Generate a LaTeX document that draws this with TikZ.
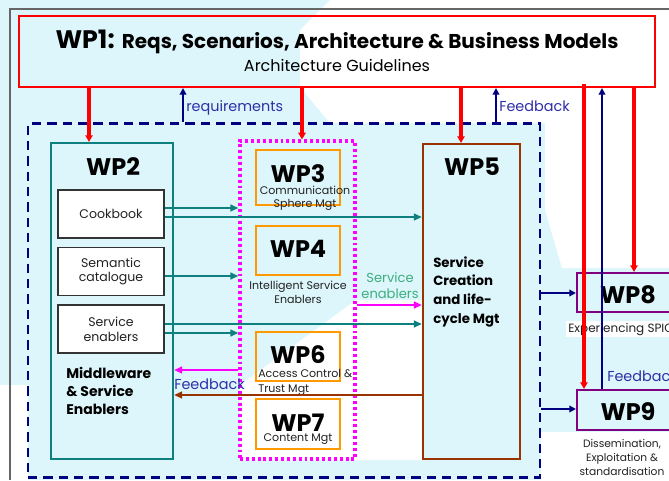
\documentclass[tikz,border=0pt]{standalone}
\usepackage{fontspec}
\setmainfont{Poppins}
\usetikzlibrary{arrows.meta}
\definecolor{bgc}{HTML}{DDF6FB}
\definecolor{wpred}{HTML}{FF0000}
\definecolor{wpnavy}{HTML}{000080}
\definecolor{wpteal}{HTML}{0E8080}
\definecolor{wpmag}{HTML}{FF00FF}
\definecolor{wporange}{HTML}{FF9900}
\definecolor{wpbrown}{HTML}{993300}
\definecolor{wppurple}{HTML}{800080}
\definecolor{lblblue}{HTML}{2E2EA8}
\definecolor{lblgreen}{HTML}{3DAE7E}
\definecolor{txtgray}{HTML}{222222}
\tikzset{
  wpbox/.style={draw, line width=1.6pt, inner sep=0pt},
  subbox/.style={draw=black!80, line width=0.9pt, fill=white, inner sep=0pt,
     minimum width=79.5pt, minimum height=36pt, align=center, font=\fontsize{9.4}{11}\selectfont, text=txtgray},
  wptitle/.style={font=\fontsize{18}{20}\selectfont\bfseries, inner sep=0pt, anchor=base},
  smalltxt/.style={font=\fontsize{8.3}{9.2}\selectfont, inner sep=0pt, text=txtgray},
  redarr/.style={draw=wpred, line width=2.4pt, -{Triangle[length=5pt,width=5.5pt]}},
  navyarr/.style={draw=wpnavy, line width=1.6pt, -{Triangle[length=5pt,width=5pt]}},
  tealarr/.style={draw=wpteal, line width=2pt, -{Triangle[length=6pt,width=5pt]}},
  lbl/.style={inner sep=0pt, font=\fontsize{10.8}{12}\selectfont, anchor=base west},
}
\begin{document}
\begin{tikzpicture}[x=0.75pt,y=-0.75pt]
\useasboundingbox (0,0) rectangle (669,480);
\clip (0,0) rectangle (669,480);
% background
\fill[bgc] (0,0) rectangle (669,480);
\fill[white] (330,0) -- (669,0) -- (669,268) -- (562,268) -- (545,210) -- (545,123) -- (330,123) -- (300,87) -- (300,30) -- cycle;
\fill[white] (356,300) -- (423,300) -- (423,460) -- (240,460) -- (240,385) -- cycle;
\fill[white] (541,432) -- (669,432) -- (669,480) -- (541,480) -- cycle;
\fill[white] (0,385) -- (28,385) -- (28,480) -- (0,480) -- cycle;
% gray frame
\draw[gray!80!black, line width=0.8pt] (10,480) -- (10,9) -- (669,9);

% WP1
\node[wpbox, draw=wpred, minimum width=477pt, minimum height=53.25pt] (wp1) at (337,51.5) {};
\node[inner sep=0pt, anchor=base] (wp1t) at (337,48) {\fontsize{19}{20}\selectfont\bfseries WP1: \fontsize{15}{16}\selectfont Reqs, Scenarios, Architecture \& Business Models};
\node[inner sep=0pt, anchor=base] (wp1s) at (337,71) {\fontsize{12}{13}\selectfont Architecture Guidelines};

% dashed box
\node[draw=wpnavy, line width=2.2pt, dash pattern=on 7pt off 4.5pt, minimum width=384pt, minimum height=265.5pt, inner sep=0pt] (dash) at (284,300.5) {};

% WP2
\node[wpbox, draw=wpteal, minimum width=91.5pt, minimum height=237pt] (wp2) at (112,301) {};
\node[wptitle] (wp2t) at (113,175) {WP2};
\node[subbox] (cook) at (111,214) {Cookbook};
\node[subbox] (sem) at (111,271.5) {Semantic\\catalogue};
\node[subbox] (senab) at (111,329) {Service\\enablers};
\node[inner sep=0pt, anchor=base west, align=left, font=\fontsize{10.5}{13.2}\selectfont\bfseries] (mw) at (66,414) {Middleware\\\& Service\\Enablers};

% pink dotted group
\node[draw=wpmag, line width=2.4pt, dash pattern=on 2.2pt off 2.2pt, minimum width=86.25pt, minimum height=238.5pt, inner sep=0pt] (pink) at (297.5,300) {};
\node[wpbox, draw=wporange, minimum width=63pt, minimum height=41.25pt] (wp3) at (298,177.5) {};
\node[wptitle] (wp3t) at (298,182) {WP3};
\node[smalltxt, align=center, anchor=base] (wp3s) at (305,207) {Communication\\Sphere Mgt};
\node[wpbox, draw=wporange, minimum width=63pt, minimum height=36.75pt] (wp4) at (298,250.5) {};
\node[wptitle] (wp4t) at (298,257) {WP4};
\node[smalltxt, align=center, anchor=base, font=\fontsize{8.3}{9.8}\selectfont] (wp4s) at (298,303) {Intelligent Service\\Enablers};
\node[wpbox, draw=wporange, minimum width=63pt, minimum height=36.75pt] (wp6) at (298,356.5) {};
\node[wptitle] (wp6t) at (298,363) {WP6};
\node[smalltxt, align=left, anchor=base west, font=\fontsize{8.3}{11.2}\selectfont] (wp6s) at (258,392) {Access Control \&\\Trust Mgt};
\node[wpbox, draw=wporange, minimum width=63pt, minimum height=37.5pt] (wp7) at (298,424) {};
\node[wptitle] (wp7t) at (298,431) {WP7};
\node[smalltxt, anchor=base] (wp7s) at (298,441) {Content Mgt};

% WP5
\node[wpbox, draw=wpbrown, minimum width=72.75pt, minimum height=236.25pt] (wp5) at (471.5,301.5) {};
\node[wptitle] (wp5t) at (472,175) {WP5};
\node[inner sep=0pt, anchor=base west, align=left, font=\fontsize{10}{14}\selectfont\bfseries] (wp5s) at (433,323) {Service\\Creation\\and life-\\cycle Mgt};

% WP8, WP9
\node[wpbox, draw=wppurple, minimum width=92.25pt, minimum height=29.25pt] (wp8) at (638.5,292.5) {};
\node[wptitle] (wp8t) at (628,303) {WP8};
\node[fill=white, inner sep=1.5pt, font=\fontsize{9}{10}\selectfont, text=txtgray, anchor=base west] (wp8s) at (566,332) {Experiencing SPIC};
\node[wpbox, draw=wppurple, minimum width=92.25pt, minimum height=30pt] (wp9) at (638.5,410) {};
\node[wptitle] (wp9t) at (628,420) {WP9};
\node[smalltxt, align=center, font=\fontsize{8}{10.5}\selectfont, anchor=base] (wp9s) at (622,475) {Dissemination,\\Exploitation \&\\standardisation};

% x positions
\coordinate (r1) at (89,0);
\coordinate (r2) at (302,0);
\coordinate (r3) at (461,0);
\coordinate (r4) at (584,0);
\coordinate (r5) at (634,0);
\coordinate (b1) at (183,0);
\coordinate (b2) at (496,0);
\coordinate (b3) at (602,0);
\coordinate (y1) at (0,208);
\coordinate (y2) at (0,217);
\coordinate (y3) at (0,276);
\coordinate (y4) at (0,324);
\coordinate (y5) at (0,333);
\coordinate (y6) at (0,305);
\coordinate (y7) at (0,370);
\coordinate (y8) at (0,395);
\coordinate (y9) at (0,293);
\coordinate (y10) at (0,409);

% red arrows from WP1
\draw[redarr] (wp1.south -| r1) -- (wp2.north -| r1);
\draw[redarr] (wp1.south -| r2) -- (pink.north -| r2);
\draw[redarr] (wp1.south -| r3) -- (wp5.north -| r3);
\draw[redarr] ([yshift=3pt]wp1.south -| r4) -- (wp9.north -| r4);
\draw[redarr] (wp1.south -| r5) -- (wp8.north -| r5);

% navy up arrows
\draw[navyarr] (dash.north -| b1) -- (wp1.south -| b1);
\node[lbl, text=lblblue] (reqlbl) at (186,111) {requirements};
\draw[navyarr] (dash.north -| b2) -- (wp1.south -| b2);
\node[lbl, text=lblblue] (fblbl1) at (499,111) {Feedback};
\draw[navyarr] (wp9.north -| b3) -- (wp1.south -| b3);
\node[lbl, text=lblblue] (fblbl3) at (607,381) {Feedback};

% teal arrows
\draw[tealarr] (cook.east |- y1) -- (pink.west |- y1);
\draw[tealarr] (cook.east |- y2) -- (wp5.west |- y2);
\draw[tealarr] (sem.east |- y3) -- (pink.west |- y3);
\draw[tealarr] (senab.east |- y4) -- (wp5.west |- y4);
\draw[tealarr] (senab.east |- y5) -- (pink.west |- y5);

% magenta
\draw[draw=wpmag, line width=2pt, -{Triangle[length=6pt,width=5pt]}] (pink.east |- y6) -- (wp5.west |- y6);
\node[inner sep=0pt, text=lblgreen, align=center, font=\fontsize{9.8}{12}\selectfont, anchor=base] (selbl) at (390,298) {Service\\enablers};
\draw[draw=wpmag, line width=2pt, -{Triangle[length=6pt,width=5pt]}] (pink.west |- y7) -- (wp2.east |- y7);
\node[lbl, text=lblblue] (fblbl2) at (174,389) {Feedback};
\draw[draw=wpbrown, line width=2pt, -{Triangle[length=6pt,width=5pt]}] (wp5.west |- y8) -- (wp2.east |- y8);

% navy arrows to WP8/WP9
\draw[navyarr] (dash.east |- y9) -- (wp8.west |- y9);
\draw[navyarr] (dash.east |- y10) -- (wp9.west |- y10);
\end{tikzpicture}
\end{document}
